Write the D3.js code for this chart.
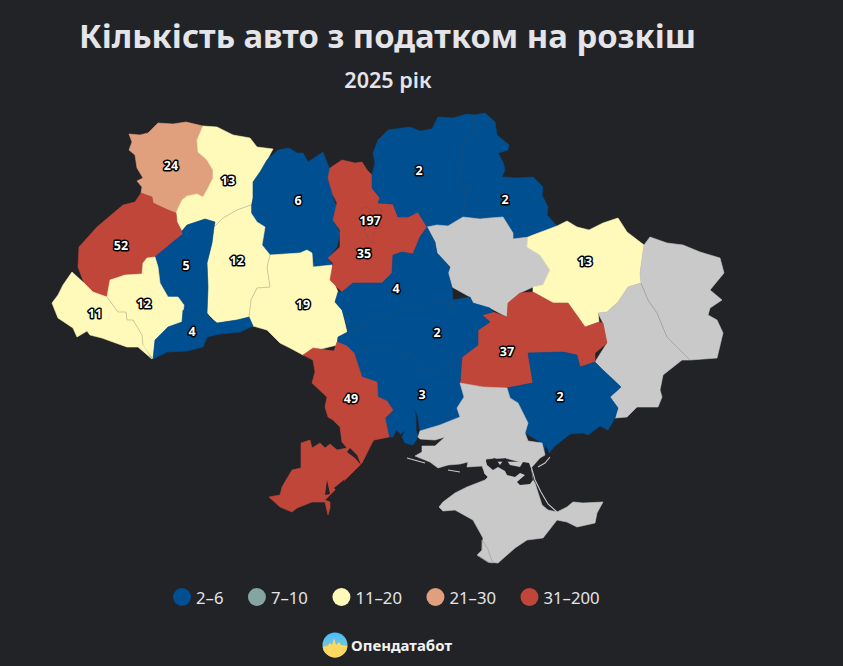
<!DOCTYPE html>
<html>
<head>
<meta charset="utf-8">
<script src="https://cdn.jsdelivr.net/npm/d3@7"></script>
<style>
  html, body { margin: 0; padding: 0; background: #212327; overflow: hidden; }
  text { font-family: "Noto Sans", sans-serif; }
</style>
</head>
<body>
<div id="map"></div>
<script>
// Дані
const regions = ["Волинська","Рівненська","Житомирська","Хмельницька","Вінницька","Львівська","Тернопільська",
  "Івано-Франківська","Закарпатська","Чернівецька","Київська","м. Київ","Чернігівська","Сумська","Полтавська",
  "Харківська","Луганська","Донецька","Дніпропетровська","Запорізька","Кіровоградська","Черкаська","Миколаївська",
  "Одеська","Херсонська","АР Крим","м. Севастополь"];
const values = [24,13,6,12,19,52,5,12,11,4,35,197,2,2,null,13,null,null,37,2,2,4,3,49,null,null,null];

const legendLabels = ["2–6","7–10","11–20","21–30","31–200"];
const thresholds = [7,11,21,31];
const colors = ["#004f91","#85a5a3","#fffaba","#e09f7d","#c1463a"];

// Контури областей (одиниці карти)
const outlines = [
  [[129,134],[140,135],[148,133],[158,123],[173,124],[186,122],[203,126],[197,140],[198,152],[207,160],[213,170],[213,178],[208,188],[203,197],[197,194],[187,196],[182,200],[176,213],[168,210],[153,203],[152,197],[141,193],[142,187],[137,181],[143,178],[137,168],[135,155],[129,150],[132,142]],
  [[203,126],[217,127],[233,135],[250,138],[257,147],[273,149],[267,160],[260,172],[253,182],[253,198],[251,205],[237,210],[223,218],[214,227],[215,222],[205,219],[187,225],[182,231],[177,222],[176,213],[182,200],[187,196],[197,194],[203,197],[208,188],[213,178],[213,170],[207,160],[198,152],[197,140]],
  [[267,160],[278,150],[289,148],[297,153],[303,153],[308,162],[323,152],[328,165],[331,173],[328,180],[333,188],[333,198],[337,207],[333,218],[340,233],[337,247],[329,257],[332,265],[313,267],[312,253],[307,250],[300,253],[270,255],[262,245],[265,227],[257,222],[251,213],[253,198],[253,182],[260,172]],
  [[251,205],[251,213],[257,222],[265,227],[262,245],[270,255],[267,267],[270,287],[257,288],[251,300],[249,317],[237,320],[217,323],[207,313],[208,287],[207,263],[212,243],[214,227],[223,218],[237,210]],
  [[270,255],[300,253],[307,250],[312,253],[313,267],[332,265],[333,280],[338,292],[335,302],[342,310],[347,332],[338,337],[337,345],[317,350],[303,355],[290,348],[280,343],[267,330],[253,326],[249,317],[251,300],[257,288],[270,287],[267,267]],
  [[141,193],[152,197],[153,203],[168,210],[176,213],[177,222],[183,234],[173,242],[155,257],[147,258],[143,263],[142,274],[125,275],[110,280],[107,297],[93,292],[84,283],[78,267],[79,247],[97,227],[123,205],[135,202]],
  [[182,231],[187,225],[205,219],[215,222],[214,227],[212,243],[207,263],[208,287],[207,313],[210,318],[200,318],[183,310],[184,303],[178,298],[168,297],[160,283],[158,267],[155,257],[173,242],[183,234]],
  [[155,257],[158,267],[160,283],[168,297],[178,297],[184,305],[182,322],[168,327],[155,340],[153,359],[143,345],[142,335],[133,320],[127,320],[126,312],[118,312],[107,297],[110,280],[125,275],[142,274],[143,263],[147,258]],
  [[72,272],[84,283],[93,292],[107,297],[118,312],[126,312],[127,320],[133,320],[142,335],[143,345],[152,359],[138,347],[127,347],[113,342],[102,338],[90,335],[87,331],[77,337],[73,328],[58,318],[52,303],[58,295],[63,285]],
  [[183,310],[200,318],[210,318],[217,323],[237,320],[249,317],[253,326],[240,332],[220,334],[207,337],[203,347],[187,351],[167,352],[153,359],[155,340],[168,327],[182,322]],
  [[330,168],[342,160],[355,163],[362,162],[367,170],[372,175],[372,188],[380,198],[378,203],[393,204],[398,217],[408,217],[418,212],[427,227],[420,237],[413,254],[402,252],[393,255],[392,273],[382,283],[363,283],[353,283],[342,292],[330,280],[333,263],[328,258],[340,247],[340,230],[333,220],[337,203],[333,195],[328,178]],
  [[362,208],[367,207],[371,211],[376,208],[382,209],[380,222],[375,228],[373,243],[369,240],[365,232],[362,220]],
  [[373,153],[378,140],[388,130],[410,127],[420,131],[432,129],[438,117],[453,118],[467,114],[475,115],[472,120],[475,130],[463,142],[463,158],[457,183],[467,188],[463,217],[448,226],[437,225],[427,227],[418,212],[408,217],[398,217],[393,204],[378,203],[380,198],[372,188],[372,175],[375,163]],
  [[475,115],[485,113],[495,122],[497,135],[509,145],[508,150],[498,153],[503,162],[505,170],[502,177],[517,178],[533,177],[543,187],[542,195],[548,207],[547,215],[557,226],[533,235],[513,239],[513,233],[503,217],[490,218],[480,219],[463,217],[467,188],[457,183],[463,158],[463,142],[475,130],[472,120]],
  [[427,227],[437,225],[448,226],[463,217],[480,219],[490,218],[503,217],[513,233],[513,239],[528,237],[527,247],[540,255],[550,270],[543,285],[533,287],[520,293],[508,303],[507,317],[490,308],[473,303],[470,297],[452,287],[448,273],[450,267],[437,253],[435,242]],
  [[528,237],[533,235],[557,226],[567,221],[577,227],[589,230],[603,223],[618,218],[627,232],[644,245],[640,273],[641,283],[628,287],[618,302],[607,312],[598,313],[599,322],[585,327],[578,317],[568,303],[553,303],[533,292],[533,287],[543,285],[550,270],[540,255],[527,247]],
  [[644,245],[650,237],[667,243],[683,245],[700,252],[720,258],[724,273],[710,290],[722,300],[710,308],[708,315],[717,320],[723,333],[717,358],[690,360],[680,350],[667,337],[657,313],[648,300],[641,283],[640,273]],
  [[628,287],[641,283],[648,300],[657,313],[667,337],[680,350],[690,360],[682,360],[663,375],[660,390],[662,397],[658,407],[637,407],[627,417],[615,418],[618,408],[610,397],[621,387],[603,370],[595,362],[607,343],[603,323],[598,313],[607,312],[618,302]],
  [[507,317],[508,303],[520,293],[533,292],[553,303],[568,303],[578,317],[585,327],[599,322],[603,323],[607,343],[595,353],[595,362],[580,367],[577,355],[563,352],[528,353],[533,383],[507,388],[483,387],[460,383],[462,357],[478,345],[478,330],[490,322],[482,315],[493,312]],
  [[507,388],[533,383],[528,353],[563,352],[577,355],[580,367],[595,362],[603,370],[621,387],[610,397],[618,408],[615,418],[608,430],[600,426],[588,435],[583,433],[570,434],[555,446],[549,453],[548,449],[545,445],[544,455],[542,443],[525,433],[528,423],[518,403],[510,398]],
  [[348,332],[360,330],[370,317],[387,317],[407,307],[418,310],[433,300],[443,303],[452,305],[453,300],[470,297],[473,303],[490,308],[493,312],[482,315],[490,322],[478,330],[478,345],[462,357],[460,358],[447,365],[433,372],[418,368],[412,353],[400,355],[392,348],[375,348],[358,352],[354,353],[347,346],[337,345],[338,337]],
  [[342,292],[353,283],[382,283],[392,273],[393,255],[402,252],[413,254],[420,237],[427,227],[435,242],[437,253],[450,267],[448,273],[452,287],[453,300],[452,305],[443,303],[433,300],[418,310],[407,307],[387,317],[370,317],[360,330],[348,332],[347,327],[342,310],[335,302],[338,292]],
  [[354,353],[358,352],[375,348],[392,348],[400,355],[412,353],[418,368],[433,372],[447,365],[460,358],[462,357],[460,383],[464,397],[457,408],[460,417],[440,425],[420,431],[418,417],[414,407],[416,418],[416,430],[418,437],[413,445],[405,443],[402,437],[406,429],[401,434],[396,430],[393,437],[389,437],[385,418],[393,410],[387,401],[378,397],[377,382],[362,377]],
  [[303,355],[313,348],[334,351],[337,342],[347,346],[354,353],[362,377],[377,382],[378,397],[387,401],[393,410],[385,418],[389,437],[374,440],[372,443],[362,463],[347,478],[325,500],[330,502],[330,508],[328,515],[325,502],[312,502],[297,508],[292,512],[280,507],[269,497],[280,495],[282,487],[292,470],[301,468],[301,443],[310,440],[312,448],[320,443],[325,448],[330,444],[337,450],[347,448],[342,442],[340,427],[333,420],[328,417],[325,407],[327,397],[312,383],[315,372],[313,360]],
  [[420,431],[440,425],[460,417],[457,408],[464,397],[460,383],[483,387],[507,388],[510,398],[518,403],[528,423],[525,433],[528,441],[542,443],[545,455],[540,458],[532,467],[520,462],[505,458],[486,459],[485,474],[482,466],[467,467],[468,462],[460,464],[448,465],[438,468],[430,462],[415,456],[422,452],[422,446],[435,446],[445,437],[435,440],[420,439],[418,437]],
  [[439,507],[443,502],[455,493],[467,487],[485,480],[488,477],[485,474],[485,462],[530,462],[533,480],[535,483],[542,505],[548,510],[557,512],[567,507],[573,502],[583,503],[603,502],[597,513],[595,523],[577,527],[567,522],[557,520],[543,538],[527,540],[515,548],[507,555],[498,563],[488,562],[477,555],[482,550],[483,538],[473,520],[455,510],[443,511]],
  [[482,540],[488,549],[490,556],[493,563],[488,562],[477,555],[482,550]]
];
// Міста-анклави: їхній контур видно всередині області
const enclaves = ["м. Київ","м. Севастополь"];
// Сиваш, лимани, лагуни
const water = [
  [[486,461],[495,458],[500,465],[505,458],[510,465],[520,467],[523,462],[529,463],[531,468],[533,480],[530,484],[520,485],[517,482],[525,475],[520,473],[515,477],[507,475],[505,471],[498,467],[493,470],[487,465]],
  [[347,452],[350,448],[357,455],[361,465],[355,458]],
  [[327,480],[330,494],[325,495]],
  [[334,488],[345,479],[342,485],[336,490]]
];
// Коси
const spits = [
  [[531,466],[535,480],[541,492],[548,504],[557,512]],
  [[538,467],[545,463],[550,457]],
  [[407,458],[425,463]],
  [[448,470],[460,472]]
];
// Точки підписів
const labelAnchors = [[171,165],[228,180],[298,200],[237,260],[303,304],[121,245],[186,265],[144,303],[95,313],[192,331],
  [364,253],[370,220],[419,170],[505,199],null,[585,261],null,null,[507,351],[560,396],[437,332],[396,288],[422,394],[351,398],null,null,null];

const W = 843, H = 666;
const svg = d3.select("#map").append("svg").attr("width", W).attr("height", H).style("display", "block");

const color = d3.scaleThreshold().domain(thresholds).range(colors);
const fillOf = v => v == null ? "#c9c9c9" : color(v);
const path = d3.geoPath(d3.geoIdentity());
const ring = pts => ({ type: "Polygon", coordinates: [pts.concat([pts[0]])] });

// Заголовок
svg.append("text").attr("x", 387.5).attr("y", 48).attr("text-anchor", "middle")
  .attr("font-size", 32.8).attr("font-weight", 700).attr("fill", "#e4e4e9")
  .text("Кількість авто з податком на розкіш");
svg.append("text").attr("x", 388).attr("y", 88).attr("text-anchor", "middle")
  .attr("font-size", 21.6).attr("font-weight", 600).attr("fill", "#e4e4e9")
  .text("2025 рік");

// Області
const g = svg.append("g");
g.selectAll("path.region")
  .data(regions.map((name, i) => ({ name, value: values[i], geo: ring(outlines[i]) })))
  .enter().append("path")
    .attr("class", "region")
    .attr("d", d => path(d.geo))
    .attr("fill", d => fillOf(d.value))
    .attr("stroke", d => fillOf(d.value))
    .attr("stroke-width", 0.6);

// Межі малюємо лише між сусідами одного кольору
const segKey = (a, b) => a < b ? `${a}|${b}` : `${b}|${a}`;
const seen = new Map();
const shared = [];
outlines.forEach((pts, i) => {
  pts.forEach((p, k) => {
    const q = pts[(k + 1) % pts.length];
    const key = segKey(p.join(), q.join());
    if (seen.has(key) && seen.get(key) !== i && fillOf(values[seen.get(key)]) === fillOf(values[i])) shared.push([p, q]);
    seen.set(key, i);
  });
});
g.append("path")
  .attr("d", path({ type: "MultiLineString", coordinates: shared }))
  .attr("fill", "none")
  .attr("stroke", "#555")
  .attr("stroke-opacity", 0.5)
  .attr("stroke-width", 0.5);
g.selectAll("path.enclave")
  .data(enclaves.map(n => outlines[regions.indexOf(n)]))
  .enter().append("path")
    .attr("class", "enclave")
    .attr("d", d => path(ring(d)))
    .attr("fill", "none")
    .attr("stroke", "#555")
    .attr("stroke-opacity", 0.5)
    .attr("stroke-width", 0.5);

g.selectAll("path.water")
  .data(water)
  .enter().append("path")
    .attr("class", "water")
    .attr("d", d => path(ring(d)))
    .attr("fill", "#212327");

g.selectAll("path.spit")
  .data(spits)
  .enter().append("path")
    .attr("class", "spit")
    .attr("d", d => path({ type: "LineString", coordinates: d }))
    .attr("fill", "none")
    .attr("stroke", "#c9c9c9")
    .attr("stroke-width", 1.1);

// Підписи
svg.selectAll("text.value")
  .data(values.map((v, i) => ({ v, at: labelAnchors[i] })).filter(d => d.v != null))
  .enter().append("text")
    .attr("class", "value")
    .attr("x", d => d.at[0])
    .attr("y", d => d.at[1] + 4.5)
    .attr("text-anchor", "middle")
    .attr("font-size", 12.5)
    .attr("font-weight", 700)
    .attr("fill", "#fff")
    .attr("stroke", "#000")
    .attr("stroke-width", 3)
    .attr("stroke-linejoin", "round")
    .style("paint-order", "stroke")
    .text(d => d.v);

// Легенда
let legendX = 173;
legendLabels.forEach((label, i) => {
  svg.append("circle").attr("cx", legendX + 9).attr("cy", 597).attr("r", 9).attr("fill", colors[i]);
  const t = svg.append("text").attr("x", legendX + 23).attr("y", 603.5)
    .attr("font-size", 16.7).attr("fill", "#e4e4e9").text(label);
  legendX += 23 + t.node().getComputedTextLength() + 24.5;
});

// Логотип
const defs = svg.append("defs");
const grad = defs.append("linearGradient").attr("id", "logo").attr("x1", 0).attr("y1", 0).attr("x2", 0).attr("y2", 1);
grad.append("stop").attr("offset", "0%").attr("stop-color", "#46bdfb");
grad.append("stop").attr("offset", "50%").attr("stop-color", "#6fc6dc");
grad.append("stop").attr("offset", "100%").attr("stop-color", "#ffc93f");
defs.append("clipPath").attr("id", "logoClip").append("circle").attr("cx", 335).attr("cy", 645).attr("r", 12.5);
svg.append("circle").attr("cx", 335).attr("cy", 645).attr("r", 12.5).attr("fill", "url(#logo)");
svg.append("path").attr("clip-path", "url(#logoClip)").attr("fill", "#ffd861")
  .attr("d", "M322,647L327,646L330,643L332,645L334,638L336,645L339,642L341,645L348,646V660H322Z");
svg.append("text").attr("x", 351).attr("y", 650.5).attr("font-size", 15).attr("font-weight", 700)
  .attr("fill", "#f2f2f2").text("Опендатабот");
</script>
</body>
</html>
